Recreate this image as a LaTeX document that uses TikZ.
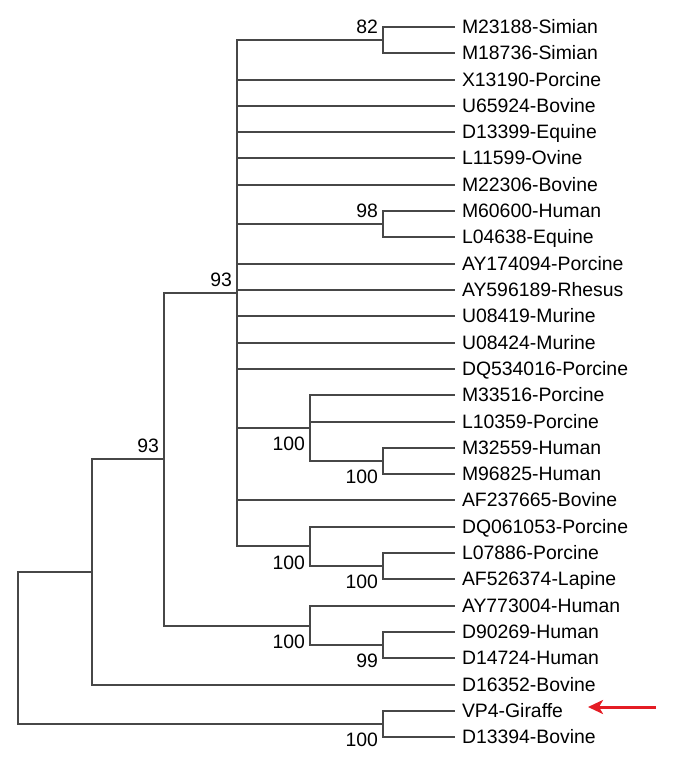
\documentclass[tikz,border=0pt]{standalone}
\usepackage{fontspec}
\setmainfont{Liberation Sans}
\usepackage{tikz}
\usetikzlibrary{arrows.meta}
\definecolor{arrowred}{RGB}{228,28,36}
\tikzstyle{leaf} = [anchor=west, inner xsep=7pt, inner ysep=0pt, outer sep=0pt, text height=13.9pt, text depth=0pt, font=\fontsize{19.4}{23}\selectfont]
\tikzstyle{boot} = [anchor=east, inner sep=0pt, outer sep=0pt, text height=13.9pt, text depth=0pt, font=\fontsize{19.4}{23}\selectfont]
\tikzstyle{branch} = [line width=1.1pt, draw=black!72]
\tikzstyle{pointer} = [line width=3pt, draw=arrowred, -{Stealth[length=15pt,width=14pt,inset=4pt]}]

\begin{document}
\begin{tikzpicture}[x=1pt,y=-1pt]
		\useasboundingbox (0,0) rectangle (685,763);
		% inner nodes of the tree
		\coordinate (root) at (18,648);
		\coordinate (nA) at (92,572);
		\coordinate (nB) at (164,459);
		\coordinate (nC) at (237,293);
		\coordinate (nD) at (383,40);
		\coordinate (nN) at (383,224);
		\coordinate (nE) at (310,428);
		\coordinate (nF) at (383,461);
		\coordinate (nG) at (310,546);
		\coordinate (nH) at (383,566);
		\coordinate (nI) at (310,626);
		\coordinate (nJ) at (383,645);
		\coordinate (nK) at (383,724);
		% leaves
		\node[leaf] (l1) at (455,27)  {M23188-Simian};
		\node[leaf] (l2) at (455,53)  {M18736-Simian};
		\node[leaf] (l3) at (455,80)  {X13190-Porcine};
		\node[leaf] (l4) at (455,106) {U65924-Bovine};
		\node[leaf] (l5) at (455,132) {D13399-Equine};
		\node[leaf] (l6) at (455,158) {L11599-Ovine};
		\node[leaf] (l7) at (455,185) {M22306-Bovine};
		\node[leaf] (l8) at (455,211) {M60600-Human};
		\node[leaf] (l9) at (455,237) {L04638-Equine};
		\node[leaf] (l10) at (455,264) {AY174094-Porcine};
		\node[leaf] (l11) at (455,290) {AY596189-Rhesus};
		\node[leaf] (l12) at (455,316) {U08419-Murine};
		\node[leaf] (l13) at (455,343) {U08424-Murine};
		\node[leaf] (l14) at (455,369) {DQ534016-Porcine};
		\node[leaf] (l15) at (455,395) {M33516-Porcine};
		\node[leaf] (l16) at (455,422) {L10359-Porcine};
		\node[leaf] (l17) at (455,448) {M32559-Human};
		\node[leaf] (l18) at (455,474) {M96825-Human};
		\node[leaf] (l19) at (455,500) {AF237665-Bovine};
		\node[leaf] (l20) at (455,527) {DQ061053-Porcine};
		\node[leaf] (l21) at (455,553) {L07886-Porcine};
		\node[leaf] (l22) at (455,579) {AF526374-Lapine};
		\node[leaf] (l23) at (455,606) {AY773004-Human};
		\node[leaf] (l24) at (455,632) {D90269-Human};
		\node[leaf] (l25) at (455,658) {D14724-Human};
		\node[leaf] (l26) at (455,685) {D16352-Bovine};
		\node[leaf] (l27) at (455,711) {VP4-Giraffe};
		\node[leaf] (l28) at (455,737) {D13394-Bovine};
		\foreach \from/\to in {root/nA,root/nK,nA/nB,nA/l26,nB/nC,nB/nI,
			nC/nD,nC/l3,nC/l4,nC/l5,nC/l6,nC/l7,nC/nN,nC/l10,nC/l11,nC/l12,nC/l13,nC/l14,nC/nE,nC/l19,nC/nG,
			nD/l1,nD/l2,nN/l8,nN/l9,nE/l15,nE/l16,nE/nF,nF/l17,nF/l18,
			nG/l20,nG/nH,nH/l21,nH/l22,nI/l23,nI/nJ,nJ/l24,nJ/l25,nK/l27,nK/l28}
		\draw[branch] (\from) |- (\to);
		% bootstrap values
		\node[boot] (bD) at (378,26.5) {82};
		\node[boot] (bN) at (378,210.5) {98};
		\node[boot] (bC) at (232,279.5) {93};
		\node[boot] (bB) at (159,446) {93};
		\node[boot] (bE) at (305,444) {100};
		\node[boot] (bF) at (378,477) {100};
		\node[boot] (bG) at (305,562.5) {100};
		\node[boot] (bH) at (378,582) {100};
		\node[boot] (bI) at (305,641.5) {100};
		\node[boot] (bJ) at (378,661) {99};
		\node[boot] (bK) at (378,740) {100};
		% marker for the giraffe strain
		\coordinate (tail) at (656,707);
		\coordinate (tip) at (588,707);
		\draw[pointer] (tail) -- (tip);
	\end{tikzpicture}
\end{document}
